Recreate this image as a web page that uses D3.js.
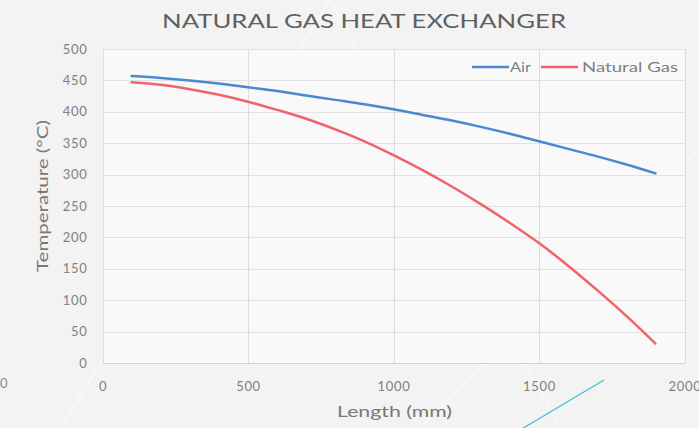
<!DOCTYPE html>
<html>
<head>
<meta charset="utf-8">
<script src="https://cdn.jsdelivr.net/npm/d3@7"></script>
<style>
    html, body { margin: 0; padding: 0; background: #f3f3f3; }
    svg { display: block; }
</style>
</head>
<body>
<div id="container"></div>
<script>
// chart data
const lengths = [100, 200, 300, 400, 500, 600, 700, 800, 900, 1000,
    1100, 1200, 1300, 1400, 1500, 1600, 1700, 1800, 1900];
const airTemps = [457, 454, 450, 445, 439, 433, 426, 419, 412, 404,
    395, 386, 376, 365, 353, 341, 329, 316, 302];
const gasTemps = [447, 443, 436, 427, 416, 403, 389, 372, 353, 331,
    307, 281, 253, 223, 191, 155, 116, 75, 31];
const seriesNames = ['Air', 'Natural Gas'];
const xTicks = [0, 500, 1000, 1500, 2000];
const yTicks = [0, 50, 100, 150, 200, 250, 300, 350, 400, 450, 500];

const W = 699, H = 428;
const font = 'Lato, \'Open Sans\', sans-serif';
const colors = { 'Air': '#4a88d0', 'Natural Gas': '#f0636b' };

const svg = d3.select('#container')
    .append('svg')
    .attr('width', W)
    .attr('height', H);

svg.append('rect')
    .attr('width', W)
    .attr('height', H)
    .attr('fill', '#f3f3f3');

// faint slide texture
[[60, 428, 330, 0], [330, 0, 560, 428], [420, 428, 699, 150]].forEach(d => {
    svg.append('line')
        .attr('x1', d[0]).attr('y1', d[1])
        .attr('x2', d[2]).attr('y2', d[3])
        .attr('stroke', '#f8f8f8')
        .attr('stroke-width', 2);
});

const margin = { left: 102.5, right: 684.5, top: 49, bottom: 363 };

const x = d3.scaleLinear()
    .domain([0, 2000])
    .range([margin.left, margin.right]);
const y = d3.scaleLinear()
    .domain([0, 500])
    .range([margin.bottom, margin.top]);

// plot background
svg.append('rect')
    .attr('x', x(0))
    .attr('y', y(500))
    .attr('width', x(2000) - x(0))
    .attr('height', y(0) - y(500))
    .attr('fill', '#f9f9f9');

// grid
svg.append('g')
    .selectAll('line')
    .data(yTicks)
    .join('line')
    .attr('x1', x(0))
    .attr('x2', x(2000))
    .attr('y1', d => Math.round(y(d)) + 0.5)
    .attr('y2', d => Math.round(y(d)) + 0.5)
    .attr('stroke', '#e2e2e2')
    .attr('stroke-width', 1);
svg.append('g')
    .selectAll('line')
    .data(xTicks)
    .join('line')
    .attr('x1', d => Math.round(x(d)) + 0.5)
    .attr('x2', d => Math.round(x(d)) + 0.5)
    .attr('y1', y(500))
    .attr('y2', y(0))
    .attr('stroke', '#dcdcdc')
    .attr('stroke-width', 1);
svg.append('line')
    .attr('x1', x(0)).attr('x2', x(2000))
    .attr('y1', Math.round(y(0)) + 0.5).attr('y2', Math.round(y(0)) + 0.5)
    .attr('stroke', '#d0d0d0');

// axes (labels only)
const xAxis = svg.append('g')
    .attr('transform', `translate(0, ${y(0) + 14})`)
    .call(d3.axisBottom(x).tickValues(xTicks).tickFormat(d3.format('d')).tickSize(0).tickPadding(5));
const yAxis = svg.append('g')
    .attr('transform', `translate(${x(0) - 15}, 0)`)
    .call(d3.axisLeft(y).tickValues(yTicks).tickFormat(d3.format('d')).tickSize(0).tickPadding(0));
[xAxis, yAxis].forEach(a => {
    a.select('.domain').remove();
    a.selectAll('text')
        .style('font-family', font)
        .style('font-size', '13px')
        .style('letter-spacing', '0.7px')
        .style('fill', '#808080');
});

// lines
const series = [
    { name: seriesNames[0], values: airTemps },
    { name: seriesNames[1], values: gasTemps },
];
const line = d3.line()
    .x((d, i) => x(lengths[i]))
    .y(d => y(d))
    .curve(d3.curveMonotoneX);
series.forEach(s => {
    svg.append('path')
        .datum(s.values)
        .attr('d', line)
        .attr('fill', 'none')
        .attr('stroke', colors[s.name])
        .attr('stroke-width', 2.5)
        .attr('stroke-linecap', 'round');
});

// title
svg.append('text')
    .text('NATURAL GAS HEAT EXCHANGER')
    .attr('x', 162)
    .attr('y', 28)
    .attr('textLength', 404)
    .attr('lengthAdjust', 'spacingAndGlyphs')
    .style('font-family', font)
    .style('font-size', '20px')
    .style('fill', '#606060');

// axis titles
svg.append('text')
    .text('Length (mm)')
    .attr('x', 337)
    .attr('y', 417)
    .attr('textLength', 115)
    .attr('lengthAdjust', 'spacingAndGlyphs')
    .style('font-family', font)
    .style('font-size', '15px')
    .style('fill', '#777777');
svg.append('text')
    .text('Temperature  (°C)')
    .attr('transform', 'translate(48, 272) rotate(-90)')
    .attr('textLength', 152)
    .attr('lengthAdjust', 'spacingAndGlyphs')
    .style('font-family', font)
    .style('font-size', '15px')
    .style('fill', '#777777');

// legend
const legendPos = [{ lx: 472, tx: 510, tw: 21 }, { lx: 541, tx: 582, tw: 96 }];
series.forEach((s, i) => {
    const p = legendPos[i];
    svg.append('line')
        .attr('x1', p.lx).attr('x2', p.lx + 37)
        .attr('y1', 67).attr('y2', 67)
        .attr('stroke', colors[s.name])
        .attr('stroke-width', 2.5);
    svg.append('text')
        .text(s.name)
        .attr('x', p.tx)
        .attr('y', 72)
        .attr('textLength', p.tw)
        .attr('lengthAdjust', 'spacingAndGlyphs')
        .style('font-family', font)
        .style('font-size', '13px')
        .style('fill', '#808080');
});

// bits of the slide behind the chart
svg.append('text')
    .text('0')
    .attr('x', 0)
    .attr('y', 388)
    .style('font-family', font)
    .style('font-size', '13px')
    .style('fill', '#8a8a8a');
svg.append('line')
    .attr('x1', 604).attr('y1', 380)
    .attr('x2', 520).attr('y2', 430)
    .attr('stroke', '#3fbfd2')
    .attr('stroke-width', 1.2);
</script>
</body>
</html>
